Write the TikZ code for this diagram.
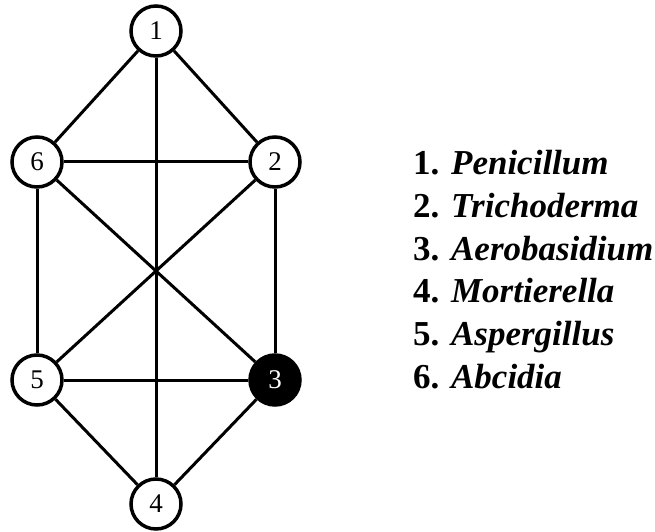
\documentclass[tikz,border=0pt]{standalone}
\usepackage{fontspec}
\setmainfont{Liberation Serif}
\tikzset{vtx/.style={draw, circle, line width=3.5pt, minimum size=50pt, inner sep=0pt, fill=white, font=\fontsize{27}{32}\selectfont},
  hit/.style={vtx, fill=black, text=white},
  link/.style={line width=3pt},
  key/.style={anchor=base west, inner sep=0pt, font=\fontsize{35}{42}\selectfont}}

\begin{document}
\begin{tikzpicture}[x=1pt, y=1pt]
  \useasboundingbox (0,0) rectangle (655,531);
  % genera
  \node[vtx] (n1) at (156,500) {1};
  \node[vtx] (n6) at (37,369) {6};
  \node[vtx] (n2) at (275,369) {2};
  \node[vtx] (n5) at (37,151) {5};
  \node[hit] (n3) at (275,151) {3};
  \node[vtx] (n4) at (156,27) {4};
  % links
  \draw[link] (n1) -- (n6);
  \draw[link] (n1) -- (n2);
  \draw[link] (n1) -- (n4);
  \draw[link] (n6) -- (n2);
  \draw[link] (n6) -- (n5);
  \draw[link] (n6) -- (n3);
  \draw[link] (n2) -- (n3);
  \draw[link] (n2) -- (n5);
  \draw[link] (n5) -- (n3);
  \draw[link] (n5) -- (n4);
  \draw[link] (n3) -- (n4);
  % legend
  \foreach \i/\genus [count=\k from 0] in {1/Penicillum, 2/Trichoderma, 3/Aerobasidium, 4/Mortierella, 5/Aspergillus, 6/Abcidia}
    \node[key] (k\i) at (413, 356-42.6*\k) {\textbf{\i.} \textbf{\textit{\genus}}};
\end{tikzpicture}
\end{document}
